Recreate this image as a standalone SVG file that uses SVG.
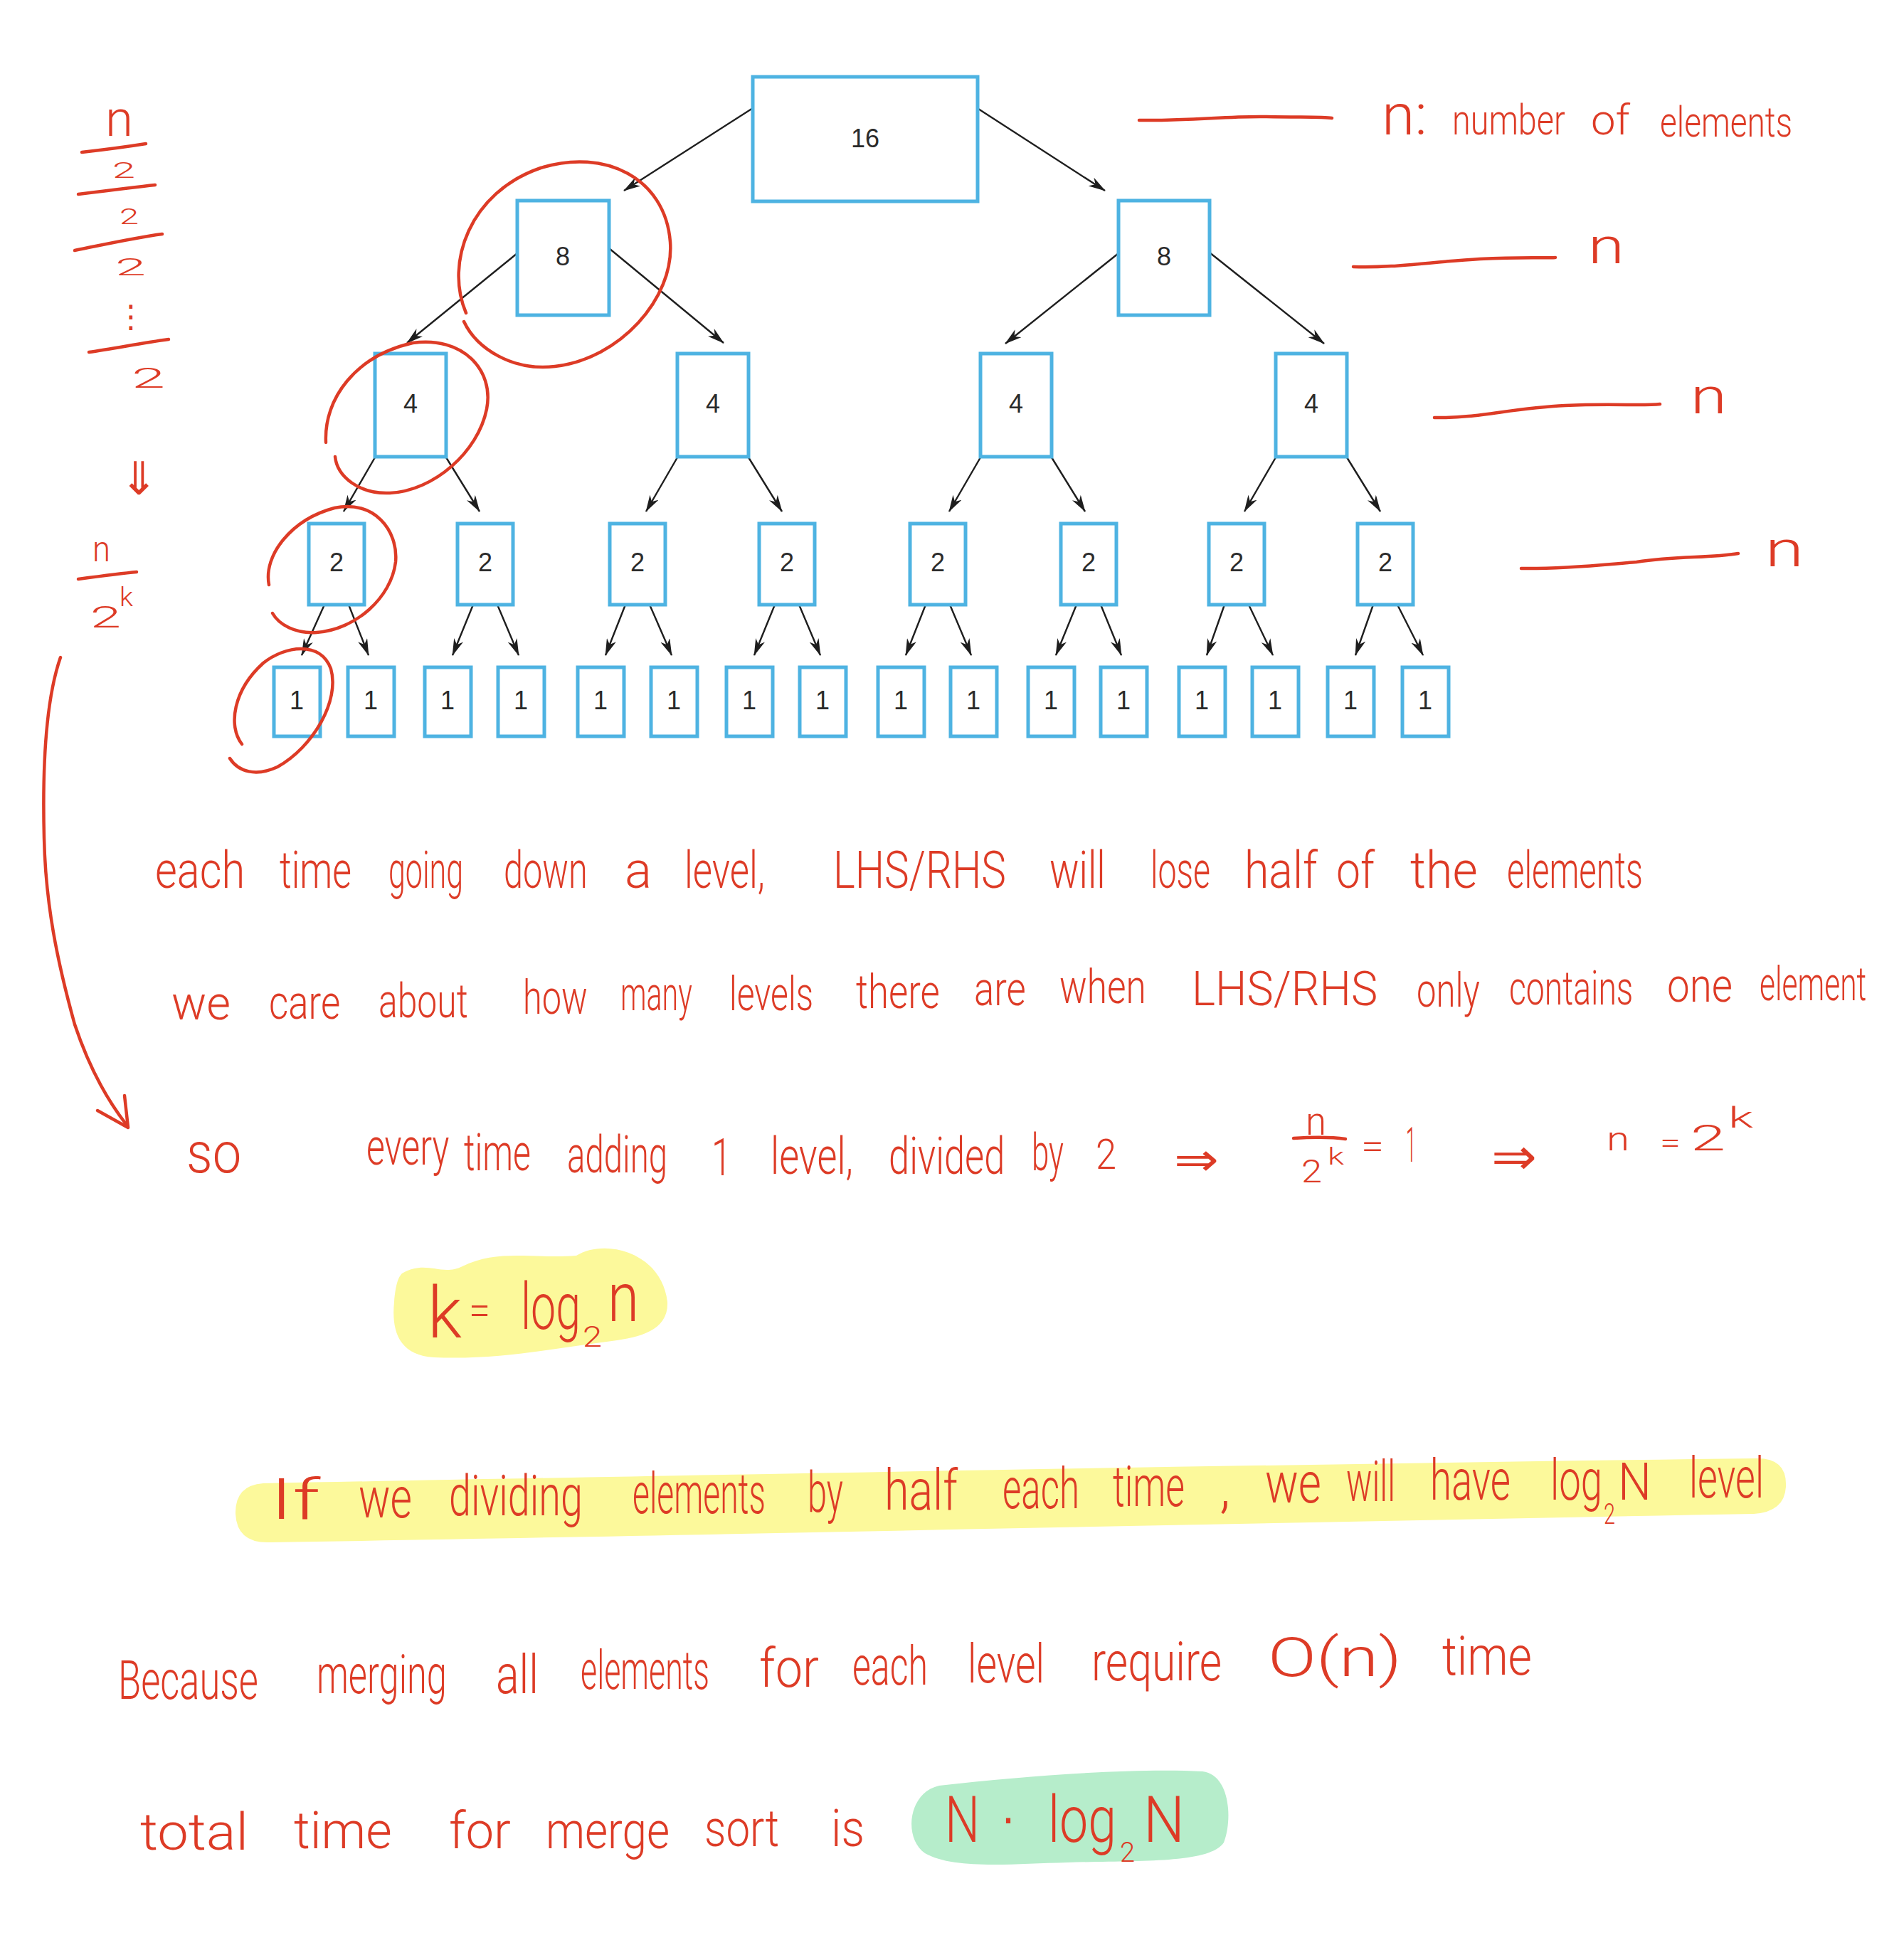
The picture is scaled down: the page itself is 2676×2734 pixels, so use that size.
<svg xmlns="http://www.w3.org/2000/svg" width="2676" height="2734" viewBox="0 0 2676 2734">
<style>
.box{fill:#fff;stroke:#4EB3E2;stroke-width:5}
.lbl{font-family:"Liberation Sans Narrow","Liberation Sans",Arial,sans-serif;font-size:36px;fill:#2b2b2b;text-anchor:middle}
.edge{stroke:#1e1e1e;stroke-width:2.4;fill:none;marker-end:url(#ah)}
.ink{fill:none;stroke:#DD3B26;stroke-width:4.5;stroke-linecap:round;stroke-linejoin:round}
.hw{font-family:Roboto,"Open Sans","Liberation Sans",sans-serif;font-weight:300;fill:#DD3B26}
.sym{font-family:"DejaVu Sans",sans-serif;fill:#DD3B26}
.hl-y{fill:#FCF99B}
.hl-g{fill:#B6EDCB}
</style>
<defs>
<marker id="ah" viewBox="0 0 24 14" refX="23" refY="7" markerWidth="24" markerHeight="14" markerUnits="userSpaceOnUse" orient="auto"><path d="M0,0 L24,7 L0,14 L7,7 Z" fill="#1e1e1e"/></marker>
</defs>
<rect width="2676" height="2734" fill="#fff"/>

<g id="highlights">
<path class="hl-y" d="M565,1790 C600,1770 620,1795 650,1780 C700,1755 750,1770 810,1765 C850,1740 930,1760 938,1830 C940,1870 900,1880 860,1885 C780,1895 700,1912 610,1908 C560,1905 550,1870 554,1830 C556,1805 560,1795 565,1790 Z"/>
<path class="hl-y" d="M370,2085 C900,2075 1800,2058 2470,2050 Q2512,2050 2510,2090 Q2508,2125 2465,2128 C1800,2140 900,2160 380,2168 Q333,2170 331,2128 Q330,2088 370,2085 Z"/>
<path class="hl-g" d="M1320,2510 C1450,2495 1600,2485 1690,2490 C1730,2495 1732,2560 1720,2590 C1700,2620 1600,2615 1500,2618 C1420,2620 1340,2628 1300,2605 C1270,2585 1275,2520 1320,2510 Z"/>
</g>

<g id="connectors">
<path class="edge" d="M1058,152 L877,268"/>
<path class="edge" d="M1375,153 L1553,268"/>
<path class="edge" d="M727,356 L572,482"/>
<path class="edge" d="M856,349 L1017,482"/>
<path class="edge" d="M1572,356 L1413,483"/>
<path class="edge" d="M1700,355 L1861,483"/>
<path class="edge" d="M527,643 L483,719"/>
<path class="edge" d="M627,643 L674,719"/>
<path class="edge" d="M952,643 L908,719"/>
<path class="edge" d="M1052,643 L1099,719"/>
<path class="edge" d="M1378,643 L1334,719"/>
<path class="edge" d="M1478,643 L1525,719"/>
<path class="edge" d="M1793,643 L1749,719"/>
<path class="edge" d="M1893,643 L1940,719"/>
<path class="edge" d="M456,850 L424,921"/>
<path class="edge" d="M490,850 L518,921"/>
<path class="edge" d="M665,850 L636,921"/>
<path class="edge" d="M699,850 L729,921"/>
<path class="edge" d="M879,850 L851,921"/>
<path class="edge" d="M913,850 L944,921"/>
<path class="edge" d="M1089,850 L1060,921"/>
<path class="edge" d="M1123,850 L1153,921"/>
<path class="edge" d="M1301,850 L1273,921"/>
<path class="edge" d="M1335,850 L1365,921"/>
<path class="edge" d="M1513,850 L1484,921"/>
<path class="edge" d="M1547,850 L1576,921"/>
<path class="edge" d="M1721,850 L1696,921"/>
<path class="edge" d="M1755,850 L1789,921"/>
<path class="edge" d="M1930,850 L1905,921"/>
<path class="edge" d="M1964,850 L2000,921"/>
</g>

<g id="n16"><rect class="box" x="1058" y="108" width="316" height="175"/><text class="lbl" x="1216" y="207">16</text></g>
<g id="n8a"><rect class="box" x="727" y="282" width="129" height="161"/><text class="lbl" x="791" y="373">8</text></g>
<g id="n8b"><rect class="box" x="1572" y="282" width="128" height="161"/><text class="lbl" x="1636" y="373">8</text></g>
<g id="n4a"><rect class="box" x="527" y="497" width="100" height="145"/><text class="lbl" x="577" y="580">4</text></g>
<g id="n4b"><rect class="box" x="952" y="497" width="100" height="145"/><text class="lbl" x="1002" y="580">4</text></g>
<g id="n4c"><rect class="box" x="1378" y="497" width="100" height="145"/><text class="lbl" x="1428" y="580">4</text></g>
<g id="n4d"><rect class="box" x="1793" y="497" width="100" height="145"/><text class="lbl" x="1843" y="580">4</text></g>
<g id="n2a"><rect class="box" x="434" y="736" width="78" height="114"/><text class="lbl" x="473" y="803">2</text></g>
<g id="n2b"><rect class="box" x="643" y="736" width="78" height="114"/><text class="lbl" x="682" y="803">2</text></g>
<g id="n2c"><rect class="box" x="857" y="736" width="78" height="114"/><text class="lbl" x="896" y="803">2</text></g>
<g id="n2d"><rect class="box" x="1067" y="736" width="78" height="114"/><text class="lbl" x="1106" y="803">2</text></g>
<g id="n2e"><rect class="box" x="1279" y="736" width="78" height="114"/><text class="lbl" x="1318" y="803">2</text></g>
<g id="n2f"><rect class="box" x="1491" y="736" width="78" height="114"/><text class="lbl" x="1530" y="803">2</text></g>
<g id="n2g"><rect class="box" x="1699" y="736" width="78" height="114"/><text class="lbl" x="1738" y="803">2</text></g>
<g id="n2h"><rect class="box" x="1908" y="736" width="78" height="114"/><text class="lbl" x="1947" y="803">2</text></g>
<g id="n1a"><rect class="box" x="385" y="938" width="65" height="97"/><text class="lbl" x="417" y="997">1</text></g>
<g id="n1b"><rect class="box" x="489" y="938" width="65" height="97"/><text class="lbl" x="521" y="997">1</text></g>
<g id="n1c"><rect class="box" x="597" y="938" width="65" height="97"/><text class="lbl" x="629" y="997">1</text></g>
<g id="n1d"><rect class="box" x="700" y="938" width="65" height="97"/><text class="lbl" x="732" y="997">1</text></g>
<g id="n1e"><rect class="box" x="812" y="938" width="65" height="97"/><text class="lbl" x="844" y="997">1</text></g>
<g id="n1f"><rect class="box" x="915" y="938" width="65" height="97"/><text class="lbl" x="947" y="997">1</text></g>
<g id="n1g"><rect class="box" x="1021" y="938" width="65" height="97"/><text class="lbl" x="1053" y="997">1</text></g>
<g id="n1h"><rect class="box" x="1124" y="938" width="65" height="97"/><text class="lbl" x="1156" y="997">1</text></g>
<g id="n1i"><rect class="box" x="1234" y="938" width="65" height="97"/><text class="lbl" x="1266" y="997">1</text></g>
<g id="n1j"><rect class="box" x="1336" y="938" width="65" height="97"/><text class="lbl" x="1368" y="997">1</text></g>
<g id="n1k"><rect class="box" x="1445" y="938" width="65" height="97"/><text class="lbl" x="1477" y="997">1</text></g>
<g id="n1l"><rect class="box" x="1547" y="938" width="65" height="97"/><text class="lbl" x="1579" y="997">1</text></g>
<g id="n1m"><rect class="box" x="1657" y="938" width="65" height="97"/><text class="lbl" x="1689" y="997">1</text></g>
<g id="n1n"><rect class="box" x="1760" y="938" width="65" height="97"/><text class="lbl" x="1792" y="997">1</text></g>
<g id="n1o"><rect class="box" x="1866" y="938" width="65" height="97"/><text class="lbl" x="1898" y="997">1</text></g>
<g id="n1p"><rect class="box" x="1971" y="938" width="65" height="97"/><text class="lbl" x="2003" y="997">1</text></g>

<g id="ink">
<path class="ink" d="M655,440 C625,370 660,270 760,236 C850,208 935,250 942,340 C948,420 870,505 780,515 C720,522 670,490 652,452"/>
<path class="ink" d="M458,622 C455,560 500,500 580,482 C650,472 695,520 684,575 C672,635 610,690 548,693 C505,695 474,670 471,642"/>
<path class="ink" d="M378,822 C370,780 410,730 470,714 C525,702 560,745 556,790 C550,840 500,885 445,889 C415,891 392,878 383,862"/>
<path class="ink" d="M340,1046 C320,1020 328,970 370,932 C400,908 450,900 465,940 C478,985 440,1050 390,1078 C360,1092 335,1085 323,1066"/>
<path class="ink" d="M85,924 C62,990 60,1100 62,1178 C64,1270 80,1350 105,1440 C125,1500 150,1545 177,1580"/>
<path class="ink" d="M137,1561 L180,1585 L175,1540"/>
<path class="ink" d="M1601,169 C1680,170 1720,163 1780,164 C1830,165 1860,164 1872,166"/>
<path class="ink" d="M1902,375 C1960,377 2010,368 2080,364 C2140,361 2170,363 2186,362"/>
<path class="ink" d="M2016,587 C2080,588 2120,574 2200,570 C2270,567 2310,571 2333,568"/>
<path class="ink" d="M2138,799 C2200,800 2260,793 2300,790 C2360,781 2400,785 2443,778"/>
<path class="ink" d="M115,214 C150,210 180,206 205,202"/>
<path class="ink" d="M110,273 C150,268 190,263 218,260"/>
<path class="ink" d="M105,352 C150,343 190,334 228,329"/>
<path class="ink" d="M125,495 C160,490 200,482 237,477"/>
<path class="ink" d="M110,814 C140,810 170,806 192,804"/>
<path class="ink" d="M1818,1600 C1850,1598 1870,1598 1891,1601"/>
</g>

<g id="notes-top">
<text class="hw" x="1942" y="189" font-size="80" textLength="64" lengthAdjust="spacingAndGlyphs">n:</text>
<text class="hw" transform="translate(2041,189) scale(0.778,1)" font-size="60" textLength="204" lengthAdjust="spacingAndGlyphs">number</text>
<text class="hw" x="2236" y="189" font-size="60" textLength="55" lengthAdjust="spacingAndGlyphs">of</text>
<text class="hw" transform="translate(2333,192) scale(0.756,1)" font-size="60" textLength="246" lengthAdjust="spacingAndGlyphs">elements</text>
<text class="hw" x="2232" y="370" font-size="70" textLength="51" lengthAdjust="spacingAndGlyphs">n</text>
<text class="hw" x="2376" y="581" font-size="70" textLength="51" lengthAdjust="spacingAndGlyphs">n</text>
<text class="hw" x="2481" y="796" font-size="70" textLength="54" lengthAdjust="spacingAndGlyphs">n</text>
</g>

<g id="notes-left">
<text class="hw" x="148" y="191" font-size="70" textLength="39" lengthAdjust="spacingAndGlyphs">n</text>
<text class="hw" x="158" y="250" font-size="32" textLength="32" lengthAdjust="spacingAndGlyphs">2</text>
<text class="hw" x="168" y="315" font-size="32" textLength="27" lengthAdjust="spacingAndGlyphs">2</text>
<text class="hw" x="162" y="387" font-size="34" textLength="43" lengthAdjust="spacingAndGlyphs">2</text>
<text class="sym" x="184" y="460" font-size="44" text-anchor="middle">⋮</text>
<text class="hw" x="185" y="545" font-size="38" textLength="47" lengthAdjust="spacingAndGlyphs">2</text>
<text class="sym" x="195" y="695" font-size="64" text-anchor="middle">⇓</text>
<text class="hw" x="130" y="789" font-size="50" textLength="25" lengthAdjust="spacingAndGlyphs">n</text>
<text class="hw" x="168" y="852" font-size="36" textLength="19" lengthAdjust="spacingAndGlyphs">k</text>
<text class="hw" x="127" y="882" font-size="42" textLength="43" lengthAdjust="spacingAndGlyphs">2</text>
</g>

<g id="line1" font-size="72">
<text class="hw" transform="translate(218,1248) scale(0.814,1)" textLength="155" lengthAdjust="spacingAndGlyphs">each</text>
<text class="hw" transform="translate(393,1248) scale(0.711,1)" textLength="142" lengthAdjust="spacingAndGlyphs">time</text>
<text class="hw" transform="translate(546,1248) scale(0.587,1)" textLength="179" lengthAdjust="spacingAndGlyphs">going</text>
<text class="hw" transform="translate(708,1248) scale(0.673,1)" textLength="175" lengthAdjust="spacingAndGlyphs">down</text>
<text class="hw" x="878" y="1248" textLength="38" lengthAdjust="spacingAndGlyphs">a</text>
<text class="hw" transform="translate(962,1248) scale(0.706,1)" textLength="160" lengthAdjust="spacingAndGlyphs">level,</text>
<text class="hw" transform="translate(1171,1248) scale(0.807,1)" textLength="301" lengthAdjust="spacingAndGlyphs">LHS/RHS</text>
<text class="hw" transform="translate(1475,1248) scale(0.743,1)" textLength="106" lengthAdjust="spacingAndGlyphs">will</text>
<text class="hw" transform="translate(1617,1248) scale(0.628,1)" textLength="134" lengthAdjust="spacingAndGlyphs">lose</text>
<text class="hw" transform="translate(1749,1248) scale(0.849,1)" textLength="121" lengthAdjust="spacingAndGlyphs">half</text>
<text class="hw" transform="translate(1878,1248) scale(0.818,1)" textLength="66" lengthAdjust="spacingAndGlyphs">of</text>
<text class="hw" transform="translate(1982,1248) scale(0.937,1)" textLength="101" lengthAdjust="spacingAndGlyphs">the</text>
<text class="hw" transform="translate(2118,1248) scale(0.647,1)" textLength="295" lengthAdjust="spacingAndGlyphs">elements</text>
</g>

<g id="line2" font-size="66">
<text class="hw" transform="translate(241,1433) scale(0.98,1)" textLength="84.7" lengthAdjust="spacingAndGlyphs">we</text>
<text class="hw" transform="translate(378,1432) scale(0.783,1)" textLength="128" lengthAdjust="spacingAndGlyphs">care</text>
<text class="hw" transform="translate(532,1430) scale(0.748,1)" textLength="168" lengthAdjust="spacingAndGlyphs">about</text>
<text class="hw" transform="translate(735,1425) scale(0.737,1)" textLength="123" lengthAdjust="spacingAndGlyphs">how</text>
<text class="hw" transform="translate(872,1420) scale(0.626,1)" textLength="161" lengthAdjust="spacingAndGlyphs">many</text>
<text class="hw" transform="translate(1025,1420) scale(0.703,1)" textLength="168" lengthAdjust="spacingAndGlyphs">levels</text>
<text class="hw" transform="translate(1203,1417) scale(0.785,1)" textLength="150" lengthAdjust="spacingAndGlyphs">there</text>
<text class="hw" transform="translate(1369,1413) scale(0.783,1)" textLength="93" lengthAdjust="spacingAndGlyphs">are</text>
<text class="hw" transform="translate(1489,1410) scale(0.775,1)" textLength="157" lengthAdjust="spacingAndGlyphs">when</text>
<text class="hw" transform="translate(1675,1413) scale(0.946,1)" textLength="276" lengthAdjust="spacingAndGlyphs">LHS/RHS</text>
<text class="hw" transform="translate(1991,1415) scale(0.734,1)" textLength="121" lengthAdjust="spacingAndGlyphs">only</text>
<text class="hw" transform="translate(2121,1412) scale(0.689,1)" textLength="253" lengthAdjust="spacingAndGlyphs">contains</text>
<text class="hw" transform="translate(2343,1408) scale(0.844,1)" textLength="109" lengthAdjust="spacingAndGlyphs">one</text>
<text class="hw" transform="translate(2473,1406) scale(0.634,1)" textLength="237" lengthAdjust="spacingAndGlyphs">element</text>
</g>

<g id="line3" font-size="72">
<text class="hw" transform="translate(262,1648) scale(0.887,1)" font-size="80" textLength="87" lengthAdjust="spacingAndGlyphs">so</text>
<text class="hw" transform="translate(515,1637) scale(0.684,1)" textLength="170" lengthAdjust="spacingAndGlyphs">every</text>
<text class="hw" transform="translate(652,1645) scale(0.662,1)" textLength="142" lengthAdjust="spacingAndGlyphs">time</text>
<text class="hw" transform="translate(797,1648) scale(0.647,1)" textLength="218" lengthAdjust="spacingAndGlyphs">adding</text>
<text class="hw" transform="translate(1000,1652) scale(0.693,1)" textLength="40" lengthAdjust="spacingAndGlyphs">1</text>
<text class="hw" transform="translate(1083,1650) scale(0.725,1)" textLength="160" lengthAdjust="spacingAndGlyphs">level,</text>
<text class="hw" transform="translate(1249,1650) scale(0.71,1)" textLength="230" lengthAdjust="spacingAndGlyphs">divided</text>
<text class="hw" transform="translate(1450,1645) scale(0.604,1)" textLength="74.5" lengthAdjust="spacingAndGlyphs">by</text>
<text class="hw" transform="translate(1540,1643) scale(0.861,1)" font-size="60" textLength="33.7" lengthAdjust="spacingAndGlyphs">2</text>
<text class="sym" x="1650" y="1652" font-size="64" textLength="63" lengthAdjust="spacingAndGlyphs">⇒</text>
<text class="hw" x="1835" y="1595" font-size="56" textLength="29" lengthAdjust="spacingAndGlyphs">n</text>
<text class="hw" x="1829" y="1662" font-size="44" textLength="29" lengthAdjust="spacingAndGlyphs">2</text>
<text class="hw" x="1866" y="1637" font-size="34" textLength="23" lengthAdjust="spacingAndGlyphs">k</text>
<text class="hw" x="1913" y="1628" font-size="50" textLength="32" lengthAdjust="spacingAndGlyphs">=</text>
<text class="hw" transform="translate(1976,1633) scale(0.37,1)" font-size="68" textLength="38" lengthAdjust="spacingAndGlyphs">1</text>
<text class="sym" x="2096" y="1650" font-size="70" textLength="64" lengthAdjust="spacingAndGlyphs">⇒</text>
<text class="hw" x="2258" y="1617" font-size="46" textLength="32" lengthAdjust="spacingAndGlyphs">n</text>
<text class="hw" x="2333" y="1620" font-size="40" textLength="29" lengthAdjust="spacingAndGlyphs">=</text>
<text class="hw" x="2376" y="1617" font-size="50" textLength="49" lengthAdjust="spacingAndGlyphs">2</text>
<text class="hw" x="2429" y="1585" font-size="40" textLength="35" lengthAdjust="spacingAndGlyphs">k</text>
</g>

<g id="formula-k">
<text class="hw" x="601" y="1880" font-size="100" textLength="48" lengthAdjust="spacingAndGlyphs">k</text>
<text class="hw" transform="translate(659,1862) scale(0.91,1)" font-size="60" textLength="33" lengthAdjust="spacingAndGlyphs">=</text>
<text class="hw" transform="translate(732,1868) scale(0.68,1)" font-size="90" textLength="123.5" lengthAdjust="spacingAndGlyphs">log</text>
<text class="hw" x="819" y="1893" font-size="40" textLength="27" lengthAdjust="spacingAndGlyphs">2</text>
<text class="hw" transform="translate(854,1857) scale(0.83,1)" font-size="96" textLength="53" lengthAdjust="spacingAndGlyphs">n</text>
</g>

<g id="line4" font-size="80">
<text class="hw" x="380" y="2135" textLength="70" lengthAdjust="spacingAndGlyphs">If</text>
<text class="hw" transform="translate(504,2133) scale(0.732,1)" textLength="102.4" lengthAdjust="spacingAndGlyphs">we</text>
<text class="hw" transform="translate(631,2130) scale(0.681,1)" textLength="276" lengthAdjust="spacingAndGlyphs">dividing</text>
<text class="hw" transform="translate(889,2127) scale(0.57,1)" textLength="328" lengthAdjust="spacingAndGlyphs">elements</text>
<text class="hw" transform="translate(1135,2125) scale(0.604,1)" textLength="82.8" lengthAdjust="spacingAndGlyphs">by</text>
<text class="hw" transform="translate(1243,2122) scale(0.764,1)" textLength="134.8" lengthAdjust="spacingAndGlyphs">half</text>
<text class="hw" transform="translate(1409,2120) scale(0.628,1)" textLength="172" lengthAdjust="spacingAndGlyphs">each</text>
<text class="hw" transform="translate(1564,2117) scale(0.64,1)" textLength="157.8" lengthAdjust="spacingAndGlyphs">time</text>
<text class="hw" x="1714" y="2117">,</text>
<text class="hw" transform="translate(1778,2112) scale(0.771,1)" textLength="102.4" lengthAdjust="spacingAndGlyphs">we</text>
<text class="hw" transform="translate(1892,2110) scale(0.585,1)" textLength="118" lengthAdjust="spacingAndGlyphs">will</text>
<text class="hw" transform="translate(2010,2108) scale(0.669,1)" textLength="168.8" lengthAdjust="spacingAndGlyphs">have</text>
<text class="hw" transform="translate(2179,2108) scale(0.665,1)" textLength="109.8" lengthAdjust="spacingAndGlyphs">log</text>
<text class="hw" transform="translate(2254,2142) scale(0.714,1)" font-size="40" textLength="22.4" lengthAdjust="spacingAndGlyphs">2</text>
<text class="hw" transform="translate(2274,2108) scale(0.916,1)" font-size="72" textLength="51.3" lengthAdjust="spacingAndGlyphs">N</text>
<text class="hw" transform="translate(2374,2105) scale(0.648,1)" textLength="162" lengthAdjust="spacingAndGlyphs">level</text>
</g>

<g id="line5" font-size="76">
<text class="hw" transform="translate(166,2388) scale(0.679,1)" textLength="290" lengthAdjust="spacingAndGlyphs">Because</text>
<text class="hw" transform="translate(445,2380) scale(0.658,1)" textLength="278" lengthAdjust="spacingAndGlyphs">merging</text>
<text class="hw" transform="translate(697,2380) scale(0.768,1)" textLength="78" lengthAdjust="spacingAndGlyphs">all</text>
<text class="hw" transform="translate(816,2374) scale(0.58,1)" textLength="312" lengthAdjust="spacingAndGlyphs">elements</text>
<text class="hw" transform="translate(1067,2371) scale(0.881,1)" textLength="95.3" lengthAdjust="spacingAndGlyphs">for</text>
<text class="hw" transform="translate(1198,2368) scale(0.649,1)" textLength="163.3" lengthAdjust="spacingAndGlyphs">each</text>
<text class="hw" transform="translate(1360,2365) scale(0.701,1)" textLength="154" lengthAdjust="spacingAndGlyphs">level</text>
<text class="hw" transform="translate(1534,2362) scale(0.779,1)" textLength="235" lengthAdjust="spacingAndGlyphs">require</text>
<text class="hw" x="1782" y="2356" textLength="188" lengthAdjust="spacingAndGlyphs">O(n)</text>
<text class="hw" transform="translate(2027,2354) scale(0.84,1)" textLength="150" lengthAdjust="spacingAndGlyphs">time</text>
</g>

<g id="line6" font-size="72">
<text class="hw" x="197" y="2600" textLength="152" lengthAdjust="spacingAndGlyphs">total</text>
<text class="hw" transform="translate(413,2598) scale(0.97,1)" textLength="142" lengthAdjust="spacingAndGlyphs">time</text>
<text class="hw" transform="translate(631,2598) scale(0.963,1)" textLength="90.3" lengthAdjust="spacingAndGlyphs">for</text>
<text class="hw" transform="translate(767,2598) scale(0.853,1)" textLength="204" lengthAdjust="spacingAndGlyphs">merge</text>
<text class="hw" transform="translate(990,2595) scale(0.833,1)" textLength="126" lengthAdjust="spacingAndGlyphs">sort</text>
<text class="hw" transform="translate(1168,2595) scale(0.861,1)" textLength="54.6" lengthAdjust="spacingAndGlyphs">is</text>
<text class="hw" transform="translate(1328,2589) scale(0.763,1)" font-size="90" textLength="64.2" lengthAdjust="spacingAndGlyphs">N</text>
<text class="sym" x="1417" y="2580" font-size="60" text-anchor="middle">·</text>
<text class="hw" transform="translate(1473,2589) scale(0.777,1)" font-size="90" textLength="123.5" lengthAdjust="spacingAndGlyphs">log</text>
<text class="hw" x="1574" y="2617" font-size="38" textLength="21" lengthAdjust="spacingAndGlyphs">2</text>
<text class="hw" transform="translate(1607,2589) scale(0.904,1)" font-size="90" textLength="64.2" lengthAdjust="spacingAndGlyphs">N</text>
</g>
</svg>
